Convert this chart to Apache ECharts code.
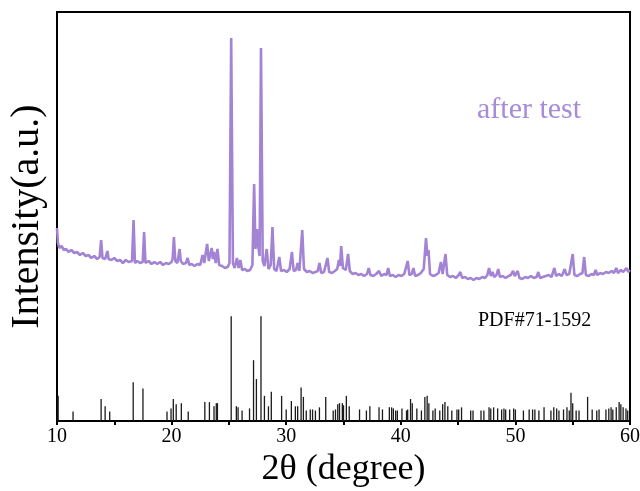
<!DOCTYPE html>
<html>
<head>
<meta charset="utf-8">
<script src="https://cdn.jsdelivr.net/npm/echarts@6/dist/echarts.min.js"></script>
<style>
  html, body { margin: 0; padding: 0; background: #fff; }
  #chart { width: 640px; height: 491px; }
</style>
</head>
<body>
<div id="chart"></div>
<script>
// measured pattern, [2theta, intensity a.u.]
const afterTest = [
  [10.00, 193], [10.08, 178], [10.20, 173], [10.40, 175], [10.60, 171], [10.80, 172],
  [11.00, 169], [11.25, 171], [11.50, 168], [11.75, 169], [12.00, 166], [12.25, 168],
  [12.50, 165], [12.75, 166], [13.00, 163], [13.25, 165], [13.50, 162], [13.72, 164],
  [13.85, 181], [13.97, 163], [14.20, 162], [14.30, 164], [14.40, 170], [14.50, 162],
  [14.75, 161], [15.00, 163], [15.25, 160], [15.50, 161], [15.75, 158], [16.00, 161],
  [16.25, 159], [16.55, 160], [16.68, 201], [16.80, 158], [17.00, 160], [17.25, 158],
  [17.48, 159], [17.60, 189], [17.72, 158], [18.00, 160], [18.25, 157], [18.50, 159],
  [18.75, 157], [19.00, 159], [19.25, 156], [19.50, 158], [19.75, 157], [20.00, 159],
  [20.10, 163], [20.20, 184], [20.32, 160], [20.50, 158], [20.70, 172], [20.80, 160],
  [21.00, 157], [21.25, 158], [21.40, 163], [21.55, 156], [21.75, 157], [22.00, 155],
  [22.25, 157], [22.50, 156], [22.70, 166], [22.85, 158], [23.10, 177], [23.25, 160],
  [23.50, 173], [23.60, 162], [23.70, 169], [23.85, 158], [24.00, 172], [24.15, 156],
  [24.40, 155], [24.65, 153], [24.90, 154], [25.05, 158], [25.20, 383], [25.35, 158],
  [25.50, 153], [25.70, 163], [25.85, 153], [26.00, 161], [26.15, 151], [26.40, 152],
  [26.60, 150], [26.85, 151], [27.05, 156], [27.20, 237], [27.32, 172], [27.45, 192],
  [27.55, 176], [27.68, 165], [27.80, 373], [27.95, 160], [28.10, 155], [28.30, 172],
  [28.45, 152], [28.65, 156], [28.80, 194], [28.95, 152], [29.15, 150], [29.40, 164],
  [29.55, 150], [29.80, 151], [30.05, 149], [30.30, 152], [30.50, 169], [30.65, 150],
  [30.85, 151], [31.00, 158], [31.15, 150], [31.40, 191], [31.55, 152], [31.80, 149],
  [32.05, 150], [32.30, 148], [32.55, 149], [32.75, 150], [32.90, 158], [33.05, 148],
  [33.30, 149], [33.60, 163], [33.75, 149], [34.00, 148], [34.25, 150], [34.45, 152],
  [34.60, 161], [34.70, 155], [34.80, 175], [34.95, 153], [35.20, 151], [35.40, 167],
  [35.55, 150], [35.80, 147], [36.05, 148], [36.30, 146], [36.55, 147], [36.80, 145],
  [37.05, 147], [37.20, 153], [37.35, 146], [37.60, 145], [37.85, 147], [38.10, 150],
  [38.30, 145], [38.55, 147], [38.75, 146], [38.90, 153], [39.05, 145], [39.30, 146],
  [39.55, 144], [39.80, 146], [40.05, 145], [40.30, 147], [40.60, 160], [40.75, 146],
  [40.95, 147], [41.10, 153], [41.25, 145], [41.50, 146], [41.75, 148], [42.00, 152],
  [42.20, 183], [42.32, 165], [42.42, 171], [42.55, 147], [42.80, 145], [43.05, 146],
  [43.30, 148], [43.50, 159], [43.65, 147], [43.90, 167], [44.05, 146], [44.30, 144],
  [44.55, 145], [44.80, 143], [45.05, 146], [45.20, 149], [45.35, 143], [45.60, 144],
  [45.85, 142], [46.10, 143], [46.35, 141], [46.60, 143], [46.85, 142], [47.10, 144],
  [47.35, 143], [47.55, 146], [47.70, 153], [47.85, 145], [48.00, 149], [48.15, 144],
  [48.35, 146], [48.50, 152], [48.65, 144], [48.90, 145], [49.15, 143], [49.40, 145],
  [49.60, 146], [49.80, 150], [49.95, 145], [50.20, 150], [50.35, 143], [50.60, 142],
  [50.85, 144], [51.10, 143], [51.35, 145], [51.60, 143], [51.85, 144], [52.00, 149],
  [52.15, 143], [52.40, 144], [52.65, 145], [52.90, 146], [53.15, 144], [53.40, 153],
  [53.55, 145], [53.80, 147], [54.05, 145], [54.30, 152], [54.45, 146], [54.70, 147],
  [54.85, 149], [55.00, 167], [55.15, 146], [55.40, 145], [55.65, 147], [55.85, 148],
  [56.00, 164], [56.15, 146], [56.40, 145], [56.65, 147], [56.85, 146], [57.00, 151],
  [57.15, 146], [57.40, 148], [57.65, 147], [57.90, 149], [58.15, 148], [58.40, 150],
  [58.60, 148], [58.80, 153], [58.95, 148], [59.20, 151], [59.40, 149], [59.55, 150],
  [59.70, 153], [59.85, 149], [60.00, 151]
]

// reference card PDF#71-1592: peak positions and relative intensities (%)
const pdfPos = [
  10.1, 11.4, 13.85, 14.2, 14.6, 16.65, 17.5, 19.6, 19.95, 20.15, 20.4, 20.85, 21.45,
  22.9, 23.3, 23.7, 23.9, 24.0, 25.2, 25.65, 25.8, 26.15, 26.8, 27.15, 27.4, 27.8,
  28.1, 28.45, 28.7, 29.6, 30.0, 30.45, 30.8, 31.0, 31.3, 31.5, 31.75, 32.1, 32.3,
  32.55, 32.9, 33.45, 34.1, 34.3, 34.5, 34.65, 34.9, 35.0, 35.25, 35.5, 36.4, 37.0,
  37.3, 38.1, 38.4, 39.0, 39.2, 39.35, 39.55, 39.7, 40.1, 40.5, 40.6, 40.85, 41.0,
  41.4, 41.8, 42.1, 42.3, 42.45, 42.8, 43.0, 43.4, 43.65, 43.85, 44.1, 44.45, 44.9,
  45.05, 45.3, 46.1, 46.3, 47.0, 47.25, 47.7, 47.85, 48.1, 48.45, 48.8, 49.0, 49.15,
  49.5, 49.85, 50.0, 50.7, 51.2, 51.5, 51.7, 52.05, 52.5, 53.1, 53.35, 53.6, 53.8,
  54.2, 54.5, 54.7, 54.85, 55.0, 55.3, 55.55, 56.3, 56.7, 57.1, 57.3, 57.9, 58.15,
  58.35, 58.5, 58.8, 59.05, 59.2, 59.4, 59.65, 59.8
]
const pdfInt = [
  24, 9, 21, 14, 9, 37, 31, 9, 12, 21, 16, 17, 9,
  18, 18, 14, 17, 17, 100, 14, 13, 10, 12, 58, 40, 100,
  24, 14, 28, 24, 11, 19, 14, 14, 32, 23, 10, 11, 11,
  10, 13, 23, 10, 11, 16, 17, 17, 15, 24, 14, 11, 10,
  14, 13, 11, 13, 13, 12, 10, 10, 12, 10, 11, 21, 17,
  12, 10, 23, 24, 17, 10, 12, 10, 16, 18, 14, 10, 11,
  11, 13, 10, 10, 10, 10, 13, 12, 13, 12, 11, 12, 11,
  11, 12, 11, 10, 11, 11, 11, 10, 13, 10, 13, 12, 10,
  11, 13, 10, 27, 17, 10, 10, 23, 11, 10, 11, 11, 12,
  13, 11, 13, 18, 16, 13, 12, 10
]

const xTicks = [10, 20, 30, 40, 50, 60]
const SERIF = "'Liberation Serif', 'Times New Roman', serif"

const chart = echarts.init(document.getElementById('chart'))

chart.setOption({
  animation: false,
  grid: {
    left: 57, right: 10, top: 12, bottom: 70,
    outerBoundsMode: 'none',
    show: true, borderColor: '#000', borderWidth: 2,
  },
  xAxis: {
    type: 'value',
    min: 10, max: 60, interval: 5,
    name: '2θ (degree)',
    nameLocation: 'middle',
    nameGap: 25,
    nameTextStyle: { fontFamily: SERIF, fontSize: 36, color: '#000' },
    axisLine: { lineStyle: { color: '#000', width: 2 } },
    axisTick: { inside: false, length: 4, lineStyle: { color: '#000', width: 2 } },
    axisLabel: {
      fontFamily: SERIF, fontSize: 20, color: '#000', margin: 6,
      formatter: (v) => (xTicks.includes(v) ? String(v) : ''),
    },
    splitLine: { show: false },
  },
  yAxis: [
    {
      type: 'value',
      min: 0, max: 409,
      name: 'Intensity(a.u.)',
      nameLocation: 'middle',
      nameGap: 10,
      nameTextStyle: { fontFamily: SERIF, fontSize: 40, color: '#000' },
      axisLine: { show: true, lineStyle: { color: '#000', width: 2 } },
      axisTick: { show: false },
      axisLabel: { show: false },
      splitLine: { show: false },
    },
    { type: 'value', min: 0, max: 390, show: false },
  ],
  graphic: [
    {
      type: 'text', left: 477, top: 95,
      style: { text: 'after test', fontFamily: SERIF, fontSize: 30, fill: '#a68bd8' },
    },
    {
      type: 'text', left: 478, top: 311,
      style: { text: 'PDF#71-1592', fontFamily: SERIF, fontSize: 20, fill: '#000' },
    },
  ],
  series: [
    {
      name: 'after test',
      type: 'line',
      data: afterTest,
      showSymbol: false,
      smooth: false,
      lineStyle: { color: '#a383d4', width: 2.6 },
      z: 3,
    },
    {
      name: 'PDF#71-1592',
      type: 'bar',
      yAxisIndex: 1,
      barWidth: 1.3,
      data: pdfPos.map((p, i) => [p, pdfInt[i]]),
      itemStyle: { color: '#1a1a1a' },
      z: 2,
    },
  ],
})
</script>
</body>
</html>
